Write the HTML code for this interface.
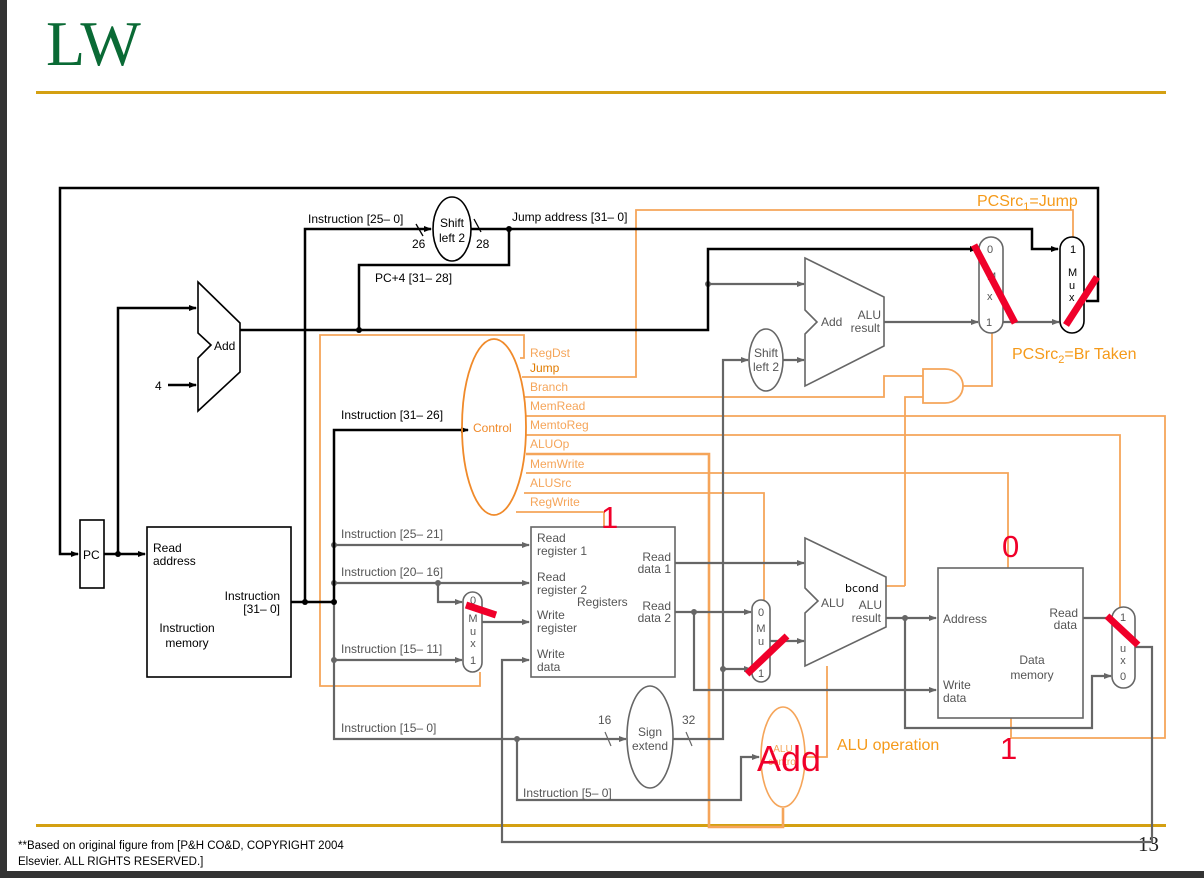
<!DOCTYPE html>
<html><head><meta charset="utf-8"><style>
html,body{margin:0;padding:0;background:#fff;}
svg{display:block;}
text{font-family:"Liberation Sans",Arial,sans-serif;}
</style></head><body>
<svg width="1204" height="878" viewBox="0 0 1204 878" xmlns="http://www.w3.org/2000/svg">
<defs>
<marker id="ab" markerWidth="8" markerHeight="8" refX="7" refY="4" orient="auto" markerUnits="userSpaceOnUse"><path d="M0,1 L8,4 L0,7 z" fill="#000"/></marker>
<marker id="ag" markerWidth="8" markerHeight="8" refX="7" refY="4" orient="auto" markerUnits="userSpaceOnUse"><path d="M0,1 L8,4 L0,7 z" fill="#666"/></marker>
</defs>
<rect x="0" y="0" width="1204" height="878" fill="#fff"/>
<rect x="0" y="0" width="7" height="878" fill="#333"/>
<rect x="0" y="871" width="1204" height="7" fill="#333"/>
<text x="46" y="65" font-size="64" fill="#0a6a35" style="font-family:'Liberation Serif',serif">LW</text>
<rect x="36" y="91" width="1130" height="3" fill="#d4a012"/>
<rect x="36" y="824" width="1130" height="3" fill="#d4a012"/>
<text x="18" y="849" font-size="11.5" fill="#000">**Based on original figure from [P&amp;H CO&amp;D, COPYRIGHT 2004</text>
<text x="18" y="865" font-size="11.5" fill="#000">Elsevier. ALL RIGHTS RESERVED.]</text>
<text x="1138" y="851" font-size="21" fill="#222" style="font-family:'Liberation Serif',serif">13</text>

<!-- ORANGE control lines -->
<g fill="none" stroke="#f5a55a" stroke-width="1.8">
<polyline points="520,358 524,358 524,335 320,335 320,686 480,686 480,672"/>
<polyline points="522,377 636,377 636,210 1073,210 1073,237"/>
<polyline points="524,397 884,397 884,376 923,376"/>
<polyline points="905,586 905,397 923,397"/>
<polyline points="886,586 905,586"/>
<polyline points="963,386 992,386 992,333"/>
<polyline points="526,416 1165,416 1165,738 1011,738 1011,718"/>
<polyline points="526,435 1120,435 1120,608"/>
<polyline points="526,473 1008,473 1008,568"/>
<polyline points="524,493 764,493 764,600"/>
<polyline points="516,512 604,512 604,527"/>
<polyline points="827,666 827,757 806,757"/>
<path d="M923,369 L945,369 A18,17 0 0 1 945,403 L923,403 Z"/>
</g>
<polyline points="526,454 709,454 709,827 783,827 783,808" fill="none" stroke="#f5a55a" stroke-width="2.6"/>

<!-- GRAY lines -->
<g fill="none" stroke="#666" stroke-width="2.2">
<line x1="334" y1="545" x2="529" y2="545" marker-end="url(#ag)"/>
<line x1="334" y1="583" x2="529" y2="583" marker-end="url(#ag)"/>
<polyline points="438,583 438,602 462,602" marker-end="url(#ag)"/>
<line x1="334" y1="660" x2="462" y2="660" marker-end="url(#ag)"/>
<polyline points="334,602 334,739 626,739" marker-end="url(#ag)"/>
<polyline points="517,739 517,800 741,800 741,757 759,757" marker-end="url(#ag)"/>
<line x1="482" y1="622" x2="529" y2="622" marker-end="url(#ag)"/>
<polyline points="1135,647 1152,647 1152,842 502,842 502,660 529,660" marker-end="url(#ag)"/>
<line x1="675" y1="563" x2="804" y2="563" marker-end="url(#ag)"/>
<line x1="675" y1="612" x2="751" y2="612" marker-end="url(#ag)"/>
<polyline points="694,612 694,690 936,690" marker-end="url(#ag)"/>
<line x1="770" y1="641" x2="804" y2="641" marker-end="url(#ag)"/>
<polyline points="673,739 723,739 723,669 751,669" marker-end="url(#ag)"/>
<polyline points="723,669 723,360 748,360" marker-end="url(#ag)"/>
<line x1="783" y1="360" x2="804" y2="360" marker-end="url(#ag)"/>
<line x1="708" y1="284" x2="804" y2="284" marker-end="url(#ag)"/>
<line x1="884" y1="322" x2="978" y2="322" marker-end="url(#ag)"/>
<line x1="1003" y1="322" x2="1059" y2="322" marker-end="url(#ag)"/>
<line x1="886" y1="618" x2="936" y2="618" marker-end="url(#ag)"/>
<polyline points="905,618 905,728 1092,728 1092,676 1111,676" marker-end="url(#ag)"/>
<line x1="1083" y1="618" x2="1112" y2="618"/>
<line x1="605" y1="732" x2="611" y2="746" stroke-width="1.2"/>
<line x1="686" y1="732" x2="692" y2="746" stroke-width="1.2"/>
</g>
<g fill="#666"><circle cx="334" cy="545" r="3"/><circle cx="334" cy="583" r="3"/><circle cx="438" cy="583" r="3"/><circle cx="334" cy="660" r="3"/><circle cx="517" cy="739" r="3"/><circle cx="694" cy="612" r="3"/><circle cx="723" cy="669" r="3"/><circle cx="708" cy="284" r="3"/><circle cx="905" cy="618" r="3"/></g>

<!-- BLACK lines -->
<g fill="none" stroke="#000" stroke-width="2.5">
<polyline points="1086,301 1098,301 1098,188 60,188 60,554 78,554" marker-end="url(#ab)"/>
<line x1="104" y1="554" x2="145" y2="554" marker-end="url(#ab)"/>
<polyline points="118,554 118,308 196,308" marker-end="url(#ab)"/>
<line x1="168" y1="385" x2="196" y2="385" marker-end="url(#ab)"/>
<polyline points="240,330 708,330 708,249 977,249" marker-end="url(#ab)"/>
<polyline points="359,330 359,265 509,265 509,229"/>
<polyline points="291,602 334,602"/>
<polyline points="305,602 305,229 431,229" marker-end="url(#ab)"/>
<polyline points="471,229 1032,229 1032,249 1058,249" marker-end="url(#ab)"/>
<polyline points="334,602 334,430 468,430" marker-end="url(#ab)"/>
<line x1="416" y1="224" x2="423" y2="236" stroke-width="1.3"/>
<line x1="474" y1="219" x2="481" y2="232" stroke-width="1.3"/>
</g>
<g fill="#000"><circle cx="118" cy="554" r="3"/><circle cx="359" cy="330" r="3"/><circle cx="509" cy="229" r="3"/><circle cx="305" cy="602" r="3"/><circle cx="334" cy="602" r="3"/></g>

<!-- Components black -->
<g fill="#fff" stroke="#000" stroke-width="1.6">
<rect x="80" y="520" width="24" height="68"/>
<rect x="147" y="527" width="144" height="150"/>
<polygon points="198,282 240,323 240,372 198,411 198,358 211,345 198,333"/>
<ellipse cx="452" cy="229" rx="19" ry="32"/>
<rect x="1060" y="237" width="24" height="96" rx="12"/>
</g>
<!-- Components gray -->
<g fill="#fff" stroke="#666" stroke-width="1.6">
<rect x="531" y="527" width="144" height="150"/>
<rect x="463" y="592" width="19" height="80" rx="9.5"/>
<rect x="752" y="600" width="18" height="82" rx="9"/>
<ellipse cx="650" cy="737" rx="23" ry="51"/>
<ellipse cx="766" cy="360" rx="17" ry="31"/>
<polygon points="805,258 884,297 884,346 805,386 805,334 817,322 805,310"/>
<rect x="979" y="237" width="24" height="96" rx="12"/>
<polygon points="805,538 886,577 886,627 805,666 805,613 818,601 805,588"/>
<rect x="938" y="568" width="145" height="150"/>
<rect x="1112" y="607" width="23" height="81" rx="11.5"/>
</g>
<ellipse cx="494" cy="427" rx="32" ry="88" fill="none" stroke="#f08a2a" stroke-width="1.8"/>
<ellipse cx="783" cy="757" rx="22" ry="50" fill="none" stroke="#f5a55a" stroke-width="1.6"/>

<!-- black text -->
<g font-size="12" fill="#000">
<text x="83" y="559">PC</text>
<text x="153" y="552">Read</text><text x="153" y="565">address</text>
<text x="280" y="600" text-anchor="end">Instruction</text><text x="280" y="613" text-anchor="end">[31– 0]</text>
<text x="187" y="632" text-anchor="middle">Instruction</text><text x="187" y="647" text-anchor="middle">memory</text>
<text x="214" y="350">Add</text>
<text x="155" y="390">4</text>
<text x="308" y="223">Instruction [25– 0]</text>
<text x="412" y="248">26</text>
<text x="476" y="248">28</text>
<text x="452" y="227" text-anchor="middle">Shift</text><text x="452" y="242" text-anchor="middle">left 2</text>
<text x="512" y="221">Jump address [31– 0]</text>
<text x="375" y="282">PC+4 [31– 28]</text>
<text x="341" y="419">Instruction [31– 26]</text>
<text x="1070" y="253" font-size="11">1</text>
<text x="1068" y="276" font-size="11">M</text><text x="1069" y="289" font-size="11">u</text><text x="1069" y="301" font-size="11">x</text>
<text x="845" y="592" style="font-family:'DejaVu Sans',sans-serif" font-size="11">bcond</text>
</g>
<!-- gray text -->
<g font-size="12" fill="#555">
<text x="341" y="538">Instruction [25– 21]</text>
<text x="341" y="576">Instruction [20– 16]</text>
<text x="341" y="653">Instruction [15– 11]</text>
<text x="341" y="732">Instruction [15– 0]</text>
<text x="523" y="797">Instruction [5– 0]</text>
<text x="537" y="542">Read</text><text x="537" y="555">register 1</text>
<text x="537" y="581">Read</text><text x="537" y="594">register 2</text>
<text x="537" y="619">Write</text><text x="537" y="632">register</text>
<text x="537" y="658">Write</text><text x="537" y="671">data</text>
<text x="577" y="606">Registers</text>
<text x="671" y="561" text-anchor="end">Read</text><text x="671" y="573" text-anchor="end">data 1</text>
<text x="671" y="610" text-anchor="end">Read</text><text x="671" y="622" text-anchor="end">data 2</text>
<text x="473" y="604" font-size="11" text-anchor="middle">0</text>
<text x="473" y="622" font-size="11" text-anchor="middle">M</text><text x="473" y="635" font-size="11" text-anchor="middle">u</text><text x="473" y="647" font-size="11" text-anchor="middle">x</text><text x="473" y="664" font-size="11" text-anchor="middle">1</text>
<text x="761" y="616" font-size="11" text-anchor="middle">0</text>
<text x="761" y="632" font-size="11" text-anchor="middle">M</text><text x="761" y="645" font-size="11" text-anchor="middle">u</text><text x="761" y="677" font-size="11" text-anchor="middle">1</text>
<text x="650" y="736" text-anchor="middle">Sign</text><text x="650" y="750" text-anchor="middle">extend</text>
<text x="598" y="724">16</text><text x="682" y="724">32</text>
<text x="766" y="357" text-anchor="middle">Shift</text><text x="766" y="371" text-anchor="middle">left 2</text>
<text x="821" y="326">Add</text>
<text x="881" y="319" text-anchor="end">ALU</text><text x="880" y="332" text-anchor="end">result</text>
<text x="987" y="253" font-size="11">0</text>
<text x="987" y="280" font-size="11">M</text><text x="987" y="300" font-size="11">x</text>
<text x="986" y="326" font-size="11">1</text>
<text x="821" y="607">ALU</text>
<text x="882" y="609" text-anchor="end">ALU</text><text x="881" y="622" text-anchor="end">result</text>
<text x="943" y="623">Address</text>
<text x="1078" y="617" text-anchor="end">Read</text><text x="1077" y="629" text-anchor="end">data</text>
<text x="1032" y="664" text-anchor="middle">Data</text><text x="1032" y="679" text-anchor="middle">memory</text>
<text x="943" y="689">Write</text><text x="943" y="702">data</text>
<text x="1123" y="621" font-size="11" text-anchor="middle">1</text>
<text x="1123" y="652" font-size="11" text-anchor="middle">u</text><text x="1123" y="664" font-size="11" text-anchor="middle">x</text><text x="1123" y="680" font-size="11" text-anchor="middle">0</text>
<text x="783" y="752" font-size="10" text-anchor="middle" fill="#f5a55a">ALU</text>
<text x="783" y="765" font-size="10" text-anchor="middle" fill="#f5a55a">control</text>
</g>
<!-- orange text -->
<g font-size="12" fill="#f5a55a">
<text x="530" y="357">RegDst</text>
<text x="530" y="372" fill="#e07b00">Jump</text>
<text x="530" y="391">Branch</text>
<text x="530" y="410">MemRead</text>
<text x="530" y="429">MemtoReg</text>
<text x="530" y="448">ALUOp</text>
<text x="530" y="468">MemWrite</text>
<text x="530" y="487">ALUSrc</text>
<text x="530" y="506">RegWrite</text>
<text x="473" y="432" fill="#f08a2a">Control</text>
</g>
<g font-size="16" fill="#f59a1a">
<text x="977" y="206">PCSrc<tspan font-size="11" dy="4">1</tspan><tspan dy="-4">=Jump</tspan></text>
<text x="1012" y="359">PCSrc<tspan font-size="11" dy="4">2</tspan><tspan dy="-4">=Br Taken</tspan></text>
<text x="837" y="750">ALU operation</text>
</g>
<!-- red -->
<g stroke="#f0002a" stroke-width="7" stroke-linecap="butt">
<line x1="974" y1="245" x2="1015" y2="323"/>
<line x1="1066" y1="325" x2="1097" y2="277"/>
<line x1="466" y1="605" x2="496" y2="615"/>
<line x1="747" y1="674" x2="787" y2="636"/>
<line x1="1107" y1="616" x2="1138" y2="645"/>
</g>
<g fill="#f0002a" font-size="31">
<text x="601" y="528">1</text>
<text x="1002" y="557">0</text>
<text x="1000" y="759">1</text>
<text x="757" y="771" font-size="36">Add</text>
</g>
</svg>
</body></html>
